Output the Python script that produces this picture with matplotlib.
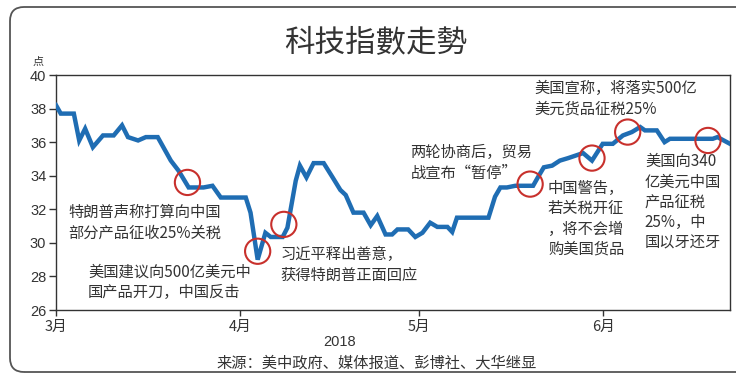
import matplotlib
matplotlib.use('Agg')
import matplotlib.pyplot as plt
from matplotlib.patches import FancyBboxPatch
from matplotlib.transforms import IdentityTransform

plt.rcParams['font.family'] = ['Noto Sans CJK SC', 'DejaVu Sans']

# dias desde el 1 de marzo de 2018 y valor del indice
dias = [0, 0.8, 3, 3.9, 4.9, 6.2, 7.9, 9.7, 11.1, 12.1, 13.8, 15.1, 17.1, 19.3, 20.6,
        22.3, 24.8, 26.3, 27.7, 31.9, 32.7, 33.9, 35.2, 36.1, 38.1, 38.9, 40.3, 41.0,
        42.1, 43.3, 45.0, 46.5, 47.8, 48.7, 50.0, 51.7, 52.9, 54.0, 55.4, 56.5, 57.4,
        59.2, 60.4, 61.6, 62.9, 64.1, 65.8, 66.6, 67.4, 72.7, 73.8, 74.7, 75.8, 77.2,
        80.2, 81.0, 82.0, 83.4, 84.7, 86.1, 88.6, 90.1, 91.9, 93.6, 95.3, 96.8, 98.2,
        99.0, 101.0, 102.3, 103.2, 105.4, 110.4, 111.2, 113.3]
valores = [38.2, 37.7, 37.7, 36.1, 36.8, 35.7, 36.4, 36.4, 37.0, 36.3, 36.1, 36.3, 36.3,
           34.9, 34.3, 33.3, 33.3, 33.4, 32.7, 32.7, 31.8, 29.0, 30.6, 30.35, 30.35, 30.9,
           33.7, 34.6, 33.9, 34.75, 34.75, 33.9, 33.15, 32.85, 31.8, 31.8, 31.05, 31.6,
           30.5, 30.5, 30.8, 30.8, 30.35, 30.6, 31.2, 30.95, 30.95, 30.65, 31.5, 31.5,
           32.75, 33.3, 33.3, 33.4, 33.4, 33.9, 34.5, 34.6, 34.9, 35.05, 35.35, 34.9,
           35.9, 35.9, 36.4, 36.6, 36.9, 36.7, 36.7, 36.0, 36.2, 36.2, 36.2, 36.3, 35.9]

# eventos marcados con circulos
circulo_dia = [22.1, 33.9, 38.3, 79.7, 90.1, 96.1, 109.6]
circulo_val = [33.6, 29.5, 31.1, 33.5, 35.05, 36.6, 36.1]

# anotaciones (dia del borde izquierdo, valor del centro, texto)
notas = [
    (2.0, 31.19, '特朗普声称打算向中国\n部分产品征收25%关税'),
    (5.4, 27.64, '美国建议向500亿美元中\n国产品开刀，中国反击'),
    (37.75, 28.68, '习近平释出善意，\n获得特朗普正面回应'),
    (59.6, 34.76, '两轮协商后，贸易\n战宣布“暂停”'),
    (80.4, 38.6, '美国宣称，将落实500亿\n美元货品征税25%'),
    (82.7, 31.42, '中国警告，\n若关税开征\n，将不会增\n购美国货品'),
    (99.0, 32.41, '美国向340\n亿美元中国\n产品征税\n25%，中\n国以牙还牙'),
]

mes_pos = [0, 31, 61, 92]
mes_txt = ['3月', '4月', '5月', '6月']
y_ticks = [26, 28, 30, 32, 34, 36, 38, 40]

texto = '#333333'

fig = plt.figure(figsize=(7.36, 3.78), dpi=100)
ax = fig.add_axes([56 / 736, 68 / 378, 674 / 736, 235 / 378])

ax.plot(dias, valores, color='#1f6db3', lw=3.2, solid_joinstyle='miter', zorder=3)
ax.scatter(circulo_dia, circulo_val, s=330, facecolors='none', edgecolors='#c8302c',
           linewidths=1.5, zorder=4)

for x, y, t in notas:
    ax.text(x, y, t, fontsize=11, color=texto, va='center', ha='left', linespacing=1.25,
            fontweight='medium')

ax.set_xlim(0, 113.3)
ax.set_ylim(26, 40)
ax.set_xticks(mes_pos)
ax.set_xticklabels(mes_txt, fontsize=10.5, color=texto)
ax.set_yticks(y_ticks)
ax.set_yticklabels([str(v) for v in y_ticks], fontsize=10.5, color=texto,
                   family='Liberation Sans')
ax.tick_params(axis='y', length=5, width=1, color='#333333', pad=2)
ax.tick_params(axis='x', length=4, width=1, color='#333333', pad=3)
for s in ax.spines.values():
    s.set_color('#333333')
    s.set_linewidth(1)

fig.text(376 / 736, 1 - 43 / 378, '科技指數走勢', fontsize=22, color=texto,
         ha='center', va='center')
fig.text(38 / 736, 1 - 62 / 378, '点', fontsize=8, color=texto, ha='center', va='center')
fig.text(340 / 736, 1 - 342 / 378, '2018', fontsize=10.5, color=texto,
         ha='center', va='center', family='Liberation Sans')
fig.text(377 / 736, 1 - 363 / 378, '来源：美中政府、媒体报道、彭博社、大华继显',
         fontsize=11, color=texto, ha='center', va='center', fontweight='medium')

# marco redondeado
marco = FancyBboxPatch((10, 6), 780, 365, boxstyle='round,pad=0,rounding_size=14',
                       transform=IdentityTransform(), fc='none', ec='#555555', lw=1.3)
fig.add_artist(marco)

fig.savefig('out.png', dpi=100)
